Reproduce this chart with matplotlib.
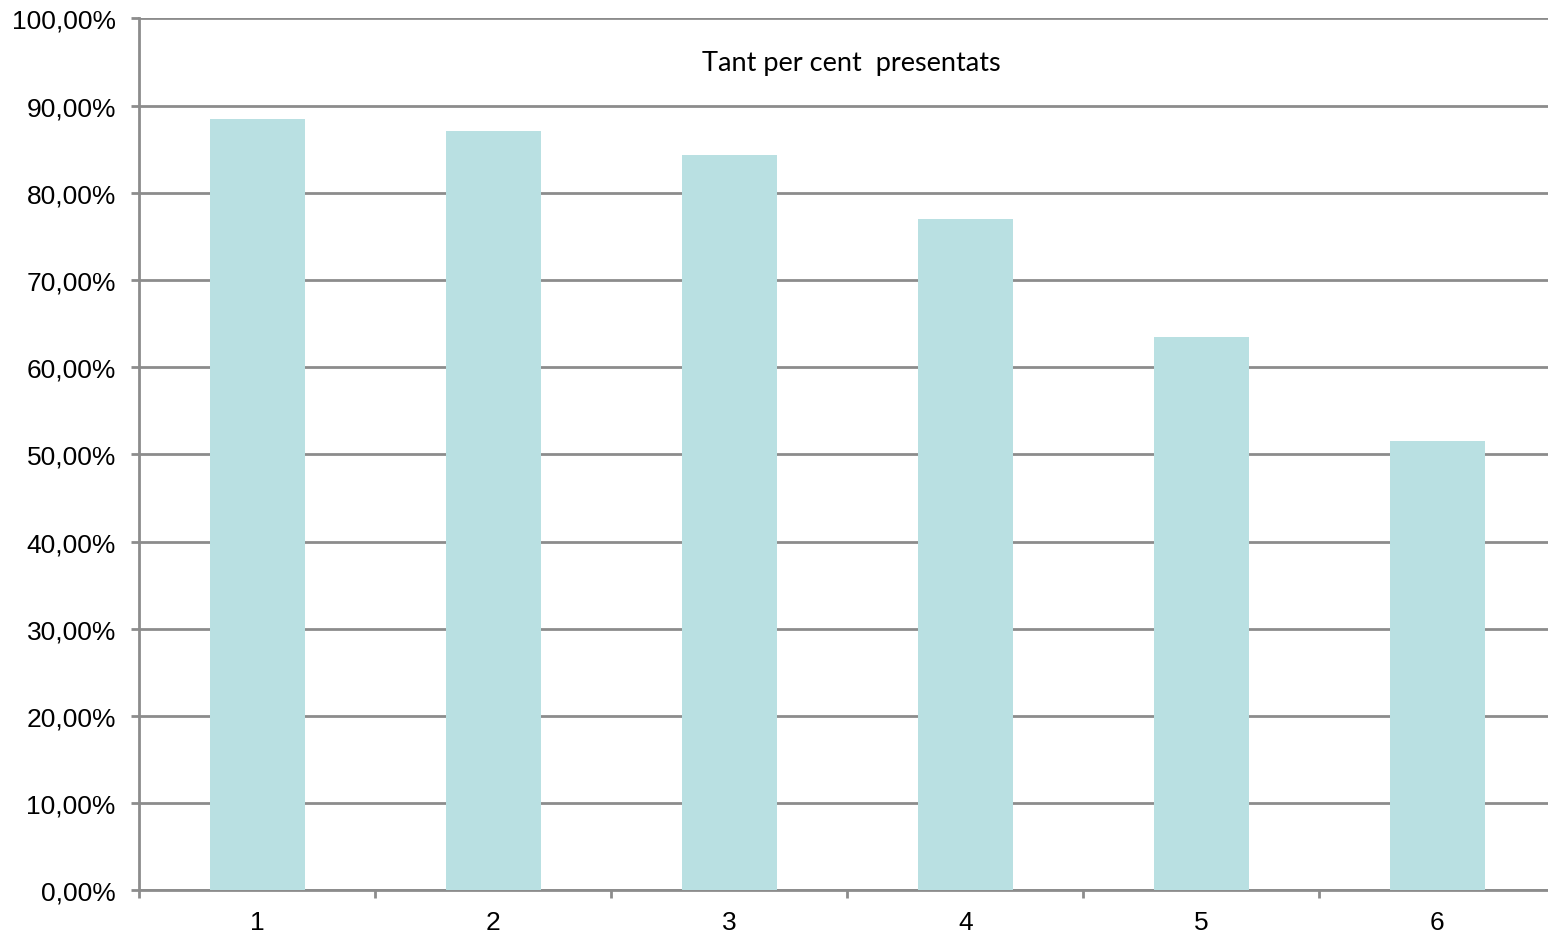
import matplotlib
matplotlib.use('Agg')
import matplotlib.pyplot as plt
from matplotlib.ticker import FuncFormatter

# dades
categories = ['1', '2', '3', '4', '5', '6']
presentats = [88.5, 87.1, 84.4, 77.0, 63.5, 51.6]
y_ticks = [0, 10, 20, 30, 40, 50, 60, 70, 80, 90, 100]

grey = '#8c8c8c'

fig = plt.figure(figsize=(15.48, 9.37), dpi=100)
ax = fig.add_axes([0.0901, 0.0486, 0.9147, 0.9306])

x = range(len(categories))
ax.bar(x, presentats, width=0.4, color='#b9e0e2', zorder=3)

ax.set_xlim(-0.5, len(categories) - 0.5)
ax.set_ylim(0, 100)
ax.set_yticks(y_ticks)
ax.yaxis.set_major_formatter(FuncFormatter(lambda v, p: f'{v:.2f}%'.replace('.', ',')))
ax.set_xticks(x)
ax.set_xticklabels(categories)
# marques entre categories
ax.set_xticks([i - 0.5 for i in range(len(categories) + 1)], minor=True)

ax.grid(axis='y', color=grey, linewidth=2, zorder=0)
for s in ['top', 'right']:
    ax.spines[s].set_visible(False)
for s in ['left', 'bottom']:
    ax.spines[s].set_color(grey)
    ax.spines[s].set_linewidth(2)

ax.tick_params(axis='y', which='major', length=6, width=2, color=grey, pad=11,
               labelsize=19, labelfontfamily='Liberation Sans')
ax.tick_params(axis='x', which='major', length=0, pad=14,
               labelsize=19, labelfontfamily='Liberation Sans')
ax.tick_params(axis='x', which='minor', length=6, width=2, color=grey)

ax.text(0.503, 0.95, 'Tant per cent  presentats', transform=ax.transAxes,
        ha='center', va='center', fontsize=19.5, family='Lato')

fig.savefig('out.png', dpi=100)
